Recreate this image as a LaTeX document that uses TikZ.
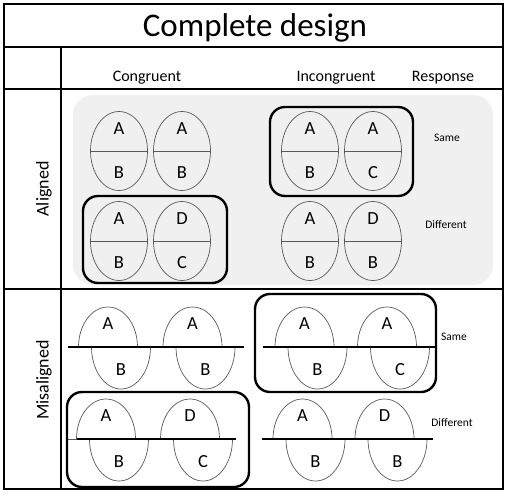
\documentclass[tikz,border=0pt]{standalone}
\usepackage{fontspec}
\setmainfont{Carlito}
\usetikzlibrary{positioning}

\begin{document}
\begin{tikzpicture}[x=1pt, y=-1pt]
	\tikzset{grid line/.style={line width=2pt}, face/.style={draw=black!65, line width=0.7pt}, cut/.style={line width=1.6pt}, pairbox/.style={draw, line width=2.4pt, rounded corners=15pt}, letter/.style={font=\fontsize{18.5}{19}\selectfont, inner sep=0pt}, head/.style={font=\fontsize{16}{17}\selectfont, anchor=base}, resp/.style={font=\fontsize{11.5}{12}\selectfont}, side/.style={font=\fontsize{18}{18}\selectfont, rotate=90}}
	
	\useasboundingbox (0,0) rectangle (510,495);
	
	% table frame
	\fill[black!6, rounded corners=20pt] (73,95) rectangle (493,285);
	\draw[line width=2.6pt] (4,4) rectangle (503,489);
	\draw[grid line] (4,47) -- (503,47);
	\draw[grid line] (4,89) -- (503,89);
	\draw[grid line] (4,289) -- (503,289);
	\draw[grid line] (61,47) -- (61,489);
	
	\node[font=\fontsize{33}{34}\selectfont, anchor=base] (title) at (255,37) {Complete design};
	\node[head] (congr) at (147,81) {Congruent};
	\node[head] (incongr) at (336,81) {Incongruent};
	\node[head] (resp) at (443,81) {Response};
	\node[side] (alig) at (44,189) {Aligned};
	\node[side] (misalig) at (44,380) {Misaligned};
	
	% aligned faces
	\foreach \n/\cx/\cy/\up/\dn in {a1/119/151/A/B, a2/182/151/A/B, a3/310/151/A/B, a4/373/151/A/C, a5/119/241/A/B, a6/182/241/D/C, a7/310/241/A/B, a8/373/241/D/B}{
		\draw[face] (\cx,\cy) ellipse [x radius=28.5pt, y radius=39.5pt];
		\draw[face] (\cx-28.5,\cy) -- (\cx+28.5,\cy);
		\node[letter] (\n-t) at (\cx,\cy-22) {\up};
		\node[letter] (\n-b) at (\cx,\cy+22) {\dn};
	}
	
	% misaligned faces
	\foreach \n/\cx/\ly/\up/\dn in {m1/108/347/A/B, m2/192.5/347/A/B, m3/304.5/347/A/B, m4/387/347/A/C, m5/106/439/A/B, m6/190/439/D/C, m7/302.5/439/A/B, m8/384.5/439/D/B}{
		\draw[face] (\cx-29.5,\ly) arc[start angle=180, end angle=0, x radius=29.5pt, y radius=40pt];
		\draw[face] (\cx-16.5,\ly) arc[start angle=180, end angle=360, x radius=29.5pt, y radius=42pt];
		\node[letter] (\n-t) at (\cx,\ly-23) {\up};
		\node[letter] (\n-b) at (\cx+13,\ly+23) {\dn};
	}
	\draw[cut] (68,347) -- (244,347);
	\draw[cut] (263,347) -- (435,347);
	\draw[face] (68,439) -- (77,439);
	\draw[cut] (77,439) -- (236,439);
	\draw[cut] (262,439) -- (433,439);
	
	% boxed pairs
	\draw[pairbox] (270,107) rectangle (413,196);
	\draw[pairbox] (83,196) rectangle (227,283);
	\draw[pairbox] (255,294) rectangle (436,392);
	\draw[pairbox] (67,392) rectangle (249,487);
	
	\node[resp] (same1) at (447,138) {Same};
	\node[resp] (diff1) at (446,225) {Different};
	\node[resp] (same2) at (454,337) {Same};
	\node[resp] (diff2) at (452,423) {Different};
\end{tikzpicture}
\end{document}
